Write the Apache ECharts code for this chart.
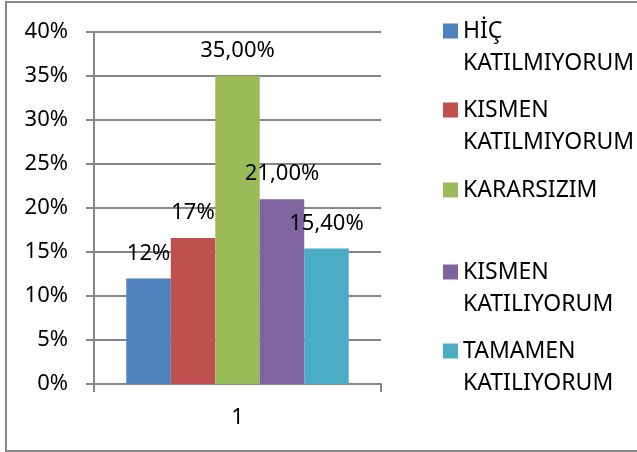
<!DOCTYPE html>
<html>
<head>
<meta charset="utf-8">
<script src="https://cdn.jsdelivr.net/npm/echarts@6/dist/echarts.min.js"></script>
<style>
  html, body { margin: 0; padding: 0; background: #fff; }
  #frame { position: absolute; left: 5px; top: 1px; width: 640px; height: 447px; border: 2px solid #898989; }
  #chart { position: absolute; left: 0; top: 0; width: 637px; height: 452px; }
</style>
</head>
<body>
<div id="frame"></div>
<div id="chart"></div>
<script>
// veriler
var categories = ['1'];
var seriesNames = ['HİÇ KATILMIYORUM', 'KISMEN KATILMIYORUM', 'KARARSIZIM', 'KISMEN KATILIYORUM', 'TAMAMEN KATILIYORUM'];
var seriesValues = [12, 16.6, 35, 21, 15.4];
var valueLabels = ['12%', '17%', '35,00%', '21,00%', '15,40%'];
var colors = ['#4F81BD', '#C0504D', '#9BBB59', '#8064A2', '#4BACC6'];

var font = 'Noto Sans';
var legendTops = [29, 108, 188, 270, 349]; // ilk satir merkezi

var series = [];
var legends = [];
for (var i = 0; i < seriesNames.length; i++) {
	series.push({
		name: seriesNames[i],
		type: 'bar',
		data: [seriesValues[i]],
		barGap: '0%',
		barCategoryGap: '22.5%',
		itemStyle: { color: colors[i] },
		label: {
			show: true,
			position: 'top',
			distance: 14,
			color: '#000',
			fontFamily: font,
			fontSize: 22,
			formatter: (function (t) { return function () { return t; }; })(valueLabels[i])
		}
	});
	var twoLine = seriesNames[i].indexOf(' ') > 0;
	legends.push({
		data: [seriesNames[i]],
		orient: 'vertical',
		left: 443,
		top: twoLine ? legendTops[i] - 46 : legendTops[i] - 14,
		padding: 0,
		itemWidth: 15,
		itemHeight: 15,
		icon: 'rect',
		selectedMode: false,
		// iki satirli metinde kutu ilk satirla hizali kalsin
		formatter: function (name) {
			return name.indexOf(' ') > 0 ? '\n' + name.replace(' ', '\n') : name;
		},
		textStyle: {
			fontFamily: font,
			fontSize: 23,
			color: '#000',
			lineHeight: 32
		}
	});
}

var myChart = echarts.init(document.getElementById('chart'));
var option = {
	animation: false,
	grid: { left: 94, right: 256, top: 32, bottom: 68 },
	legend: legends,
	xAxis: {
		type: 'category',
		data: categories,
		axisLine: { lineStyle: { color: '#868686', width: 2 } },
		axisTick: { show: true, length: 8, lineStyle: { color: '#868686', width: 2 } },
		axisLabel: { color: '#000', fontFamily: font, fontSize: 22, margin: 23 }
	},
	yAxis: {
		type: 'value',
		min: 0,
		max: 40,
		interval: 5,
		axisLine: { show: true, lineStyle: { color: '#868686', width: 2 } },
		axisTick: { show: true, length: 8, lineStyle: { color: '#868686', width: 2 } },
		splitLine: { lineStyle: { color: '#868686', width: 2 } },
		axisLabel: { color: '#000', fontFamily: font, fontSize: 22, margin: 26, formatter: '{value}%' }
	},
	series: series
};
myChart.setOption(option);
</script>
</body>
</html>
